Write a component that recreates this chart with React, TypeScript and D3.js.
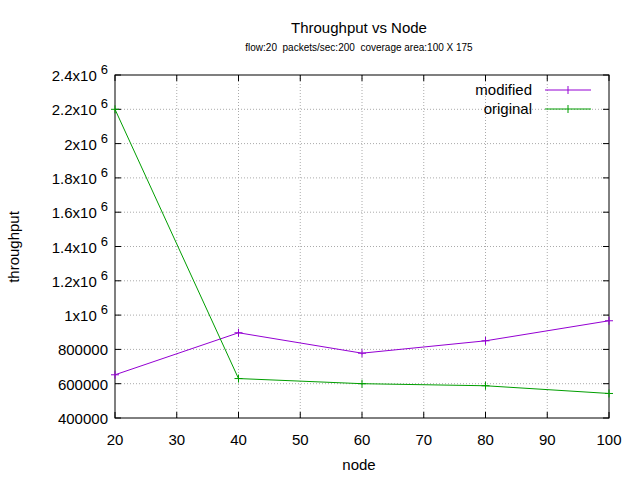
import React from "react";
import * as d3 from "d3";

const nodes = [20, 40, 60, 80, 100];
const modified = [652000, 897000, 778000, 850000, 967000];
const original = [2200000, 630000, 600000, 588000, 543000];
const xTicks = [20, 30, 40, 50, 60, 70, 80, 90, 100];
const yTicks = [400000, 600000, 800000, 1000000, 1200000, 1400000, 1600000, 1800000, 2000000, 2200000, 2400000];

function yLabel(v: number) {
  if (v < 1000000) return { m: String(v), sup: false };
  const m = +(v / 1e6).toFixed(1);
  return { m: `${m}x10`, sup: true };
}

export default function App() {
  const W = 640, H = 480;
  const L = 115, R = 609, T = 75, B = 418;
  const x = d3.scaleLinear().domain([20, 100]).range([L, R]);
  const y = d3.scaleLinear().domain([400000, 2400000]).range([B, T]);
  const line = d3.line<number>().x((_, i) => x(nodes[i])).y(d => y(d));
  const font = "Liberation Sans, Arial, sans-serif";
  const series = [
    { name: "modified", data: modified, color: "#9400d3", ly: 90 },
    { name: "original", data: original, color: "#009e00", ly: 109 },
  ];
  return (
    <svg width={W} height={H} style={{ position: "absolute", left: 0, top: 0, background: "#fff" }} fontFamily={font}>
      <rect width={W} height={H} fill="#fff" />
      {xTicks.map(t => (
        <g key={"x" + t}>
          {t > 20 && t < 100 && <line x1={x(t)} x2={x(t)} y1={T} y2={B} stroke="#aaa" strokeDasharray="1,2" />}
          <line x1={x(t)} x2={x(t)} y1={B} y2={B - 6} stroke="#000" />
          <line x1={x(t)} x2={x(t)} y1={T} y2={T + 6} stroke="#000" />
          <text x={x(t)} y={B + 27} textAnchor="middle" fontSize={15}>{t}</text>
        </g>
      ))}
      {yTicks.map(t => {
        const lb = yLabel(t);
        return (
          <g key={"y" + t}>
            {t > 400000 && t < 2400000 && <line x1={L} x2={R} y1={y(t)} y2={y(t)} stroke="#aaa" strokeDasharray="1,2" />}
            <line x1={L} x2={L + 6} y1={y(t)} y2={y(t)} stroke="#000" />
            <line x1={R} x2={R - 6} y1={y(t)} y2={y(t)} stroke="#000" />
            {lb.sup ? (
              <text x={L - 7} y={y(t) + 6} textAnchor="end" fontSize={15}>
                {lb.m}<tspan dx={4} dy={-7} fontSize={13}>6</tspan>
              </text>
            ) : (
              <text x={L - 7} y={y(t) + 6} textAnchor="end" fontSize={15}>{lb.m}</text>
            )}
          </g>
        );
      })}
      <rect x={L} y={T} width={R - L} height={B - T} fill="none" stroke="#000" />
      {series.map(s => (
        <g key={s.name}>
          <path d={line(s.data) || ""} fill="none" stroke={s.color} strokeWidth={1} />
          {s.data.map((v, i) => (
            <g key={i} stroke={s.color}>
              <line x1={x(nodes[i]) - 4} x2={x(nodes[i]) + 4} y1={y(v)} y2={y(v)} />
              <line x1={x(nodes[i])} x2={x(nodes[i])} y1={y(v) - 4} y2={y(v) + 4} />
            </g>
          ))}
          <text x={532} y={s.ly + 5} textAnchor="end" fontSize={15}>{s.name}</text>
          <line x1={545} x2={591} y1={s.ly} y2={s.ly} stroke={s.color} />
          <line x1={568} x2={568} y1={s.ly - 4} y2={s.ly + 4} stroke={s.color} />
        </g>
      ))}
      <text x={359} y={33} textAnchor="middle" fontSize={15}>Throughput vs Node</text>
      <text x={359} y={51} textAnchor="middle" fontSize={10} style={{ whiteSpace: "pre" }}>{"flow:20  packets/sec:200  coverage area:100 X 175"}</text>
      <text x={359} y={470} textAnchor="middle" fontSize={15}>node</text>
      <text transform="translate(19,247) rotate(-90)" textAnchor="middle" fontSize={15}>throughput</text>
    </svg>
  );
}
